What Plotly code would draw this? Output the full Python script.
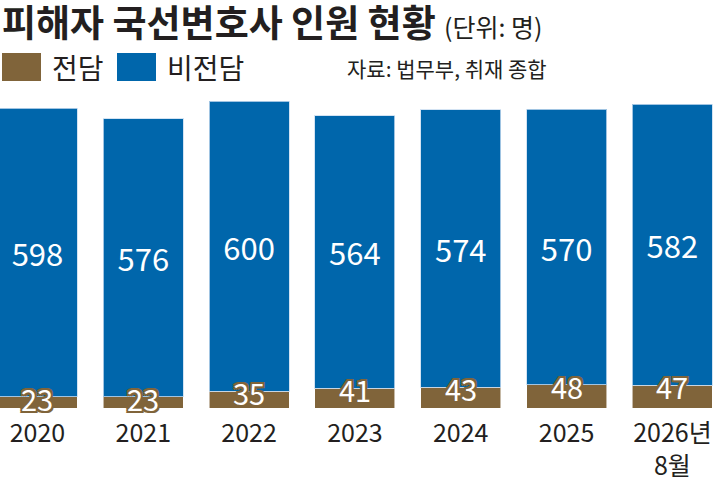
import plotly.graph_objects as go

# data (단위: 명)
years = ["2020", "2021", "2022", "2023", "2024", "2025", "2026년<br>8월"]
jeondam = [23, 23, 35, 41, 43, 48, 47]
bijeondam = [598, 576, 600, 564, 574, 570, 582]

brown = "#80643a"
blue = "#0066ab"
font = "Noto Sans CJK KR"

# plot area: bottom at y=408 px, height 313 px
def py(pixel_y):
    return (408 - pixel_y) / 313

# thick brown outline around the white 전담 numbers
outline = ", ".join(f"{dx}px {dy}px 0 {brown}" for dx in (-2, 0, 2) for dy in (-2, 0, 2))

fig = go.Figure()

fig.add_trace(go.Bar(
    x=years, y=jeondam, name="전담",
    marker=dict(color=brown, line=dict(color="rgba(255,255,255,0.55)", width=1)),
    textposition="none", hoverinfo="skip",
))
fig.add_trace(go.Bar(
    x=years, y=bijeondam, name="비전담",
    marker=dict(color=blue, line=dict(color="rgba(200,220,240,0.8)", width=1)),
    text=[str(v) for v in bijeondam],
    textposition="inside", insidetextanchor="middle", textangle=0,
    textfont=dict(family=font, size=31, color="white"),
))

# 전담 labels sit on the top edge of the brown segment
for i, v in enumerate(jeondam):
    fig.add_annotation(
        x=i, y=v, xref="x", yref="y", yanchor="middle", yshift=-1,
        showarrow=False, text=str(v),
        font=dict(family=font, size=29, color="white", shadow=outline),
    )

fig.update_layout(
    width=720, height=480,
    barmode="stack", bargap=0.245,
    showlegend=False,
    plot_bgcolor="white", paper_bgcolor="white",
    margin=dict(l=0, r=0, t=95, b=72),
    font=dict(family=font, color="#231f20"),
)
fig.update_xaxes(
    type="category", range=[-0.354, 6.45], showgrid=False, showline=False,
    ticks="", tickfont=dict(size=25, color="#231f20"), automargin=False,
    ticklabelstandoff=8,
)
fig.update_yaxes(range=[0, 648], visible=False, automargin=False)

# title, unit, source
fig.add_annotation(
    x=0, y=py(21), xref="paper", yref="paper", xanchor="left", yanchor="middle",
    showarrow=False,
    text="<b>피해자 국선변호사 인원 현황</b> <span style='font-size:25px'>(단위: 명)</span>",
    font=dict(family=font, size=37, color="#231f20"),
)
fig.add_annotation(
    x=345 / 720, y=py(68), xref="paper", yref="paper",
    xanchor="left", yanchor="middle", showarrow=False, text="자료: 법무부, 취재 종합",
    font=dict(family=font, size=21, color="#231f20"),
)

# legend drawn by hand
for x0, color, label in [(2, brown, "전담"), (117, blue, "비전담")]:
    fig.add_shape(
        type="rect", xref="paper", yref="paper",
        x0=x0 / 720, x1=(x0 + 39) / 720, y0=py(81), y1=py(53),
        line=dict(width=0), fillcolor=color,
    )
    fig.add_annotation(
        x=(x0 + 48) / 720, y=py(67), xref="paper", yref="paper",
        xanchor="left", yanchor="middle", showarrow=False, text=label,
        font=dict(family=font, size=28, color="#231f20"),
    )

fig.write_html(
    "out.html",
    config={"displayModeBar": False},
    post_script="document.body.style.margin='0';",
)
